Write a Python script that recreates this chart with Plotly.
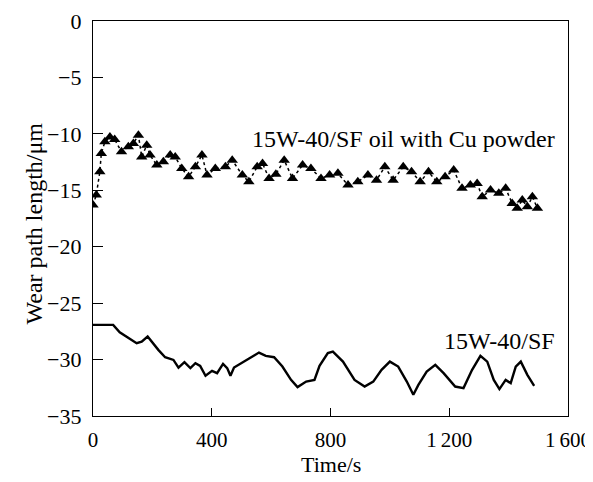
import plotly.graph_objects as go

# 15W-40/SF oil with Cu powder (triangles, dotted)
cu_time = [0, 11, 23, 28, 40, 57, 73, 96, 119, 136, 153, 164, 181, 192, 215, 237, 260, 277,
           299, 322, 345, 367, 384, 412, 446, 469, 503, 525, 553, 571, 593, 616, 644, 672,
           706, 734, 768, 797, 825, 859, 892, 926, 955, 983, 1011, 1045, 1073, 1102, 1130,
           1158, 1186, 1215, 1243, 1271, 1294, 1311, 1339, 1367, 1390, 1412, 1429, 1446,
           1463, 1480, 1497]
cu_wear = [-16.31, -15.42, -13.36, -11.73, -10.71, -10.27, -10.5, -11.59, -11.15, -10.85,
           -10.12, -12.04, -11.0, -11.88, -12.77, -12.48, -11.88, -12.04, -13.06, -13.81,
           -12.92, -11.88, -13.65, -13.06, -12.92, -12.33, -13.65, -14.25, -12.92, -12.62,
           -13.95, -13.57, -12.33, -13.95, -12.77, -13.06, -13.95, -13.65, -13.5, -14.54,
           -14.25, -13.65, -14.1, -12.92, -14.1, -12.92, -13.36, -14.25, -13.36, -14.25,
           -13.81, -13.21, -14.83, -14.54, -14.39, -15.58, -14.98, -15.27, -14.83, -16.16,
           -16.6, -15.87, -16.46, -15.58, -16.6]

# 15W-40/SF (solid line)
sf_time = [0, 68, 90, 129, 147, 164, 184, 220, 243, 271, 288, 308, 328, 345, 361, 379, 401,
           418, 438, 452, 463, 475, 508, 531, 559, 582, 610, 638, 667, 689, 718, 746, 763,
           791, 808, 842, 881, 915, 944, 972, 1000, 1028, 1057, 1079, 1096, 1124, 1153,
           1181, 1220, 1248, 1277, 1305, 1328, 1350, 1369, 1390, 1407, 1424, 1441, 1463, 1486]
sf_wear = [-26.93, -26.93, -27.58, -28.26, -28.55, -28.41, -27.96, -29.14, -29.79, -30.03,
           -30.71, -30.23, -30.76, -30.32, -30.56, -31.44, -31.0, -31.2, -30.38, -30.76,
           -31.44, -30.71, -30.18, -29.79, -29.38, -29.67, -29.79, -30.62, -31.8, -32.44,
           -31.95, -31.8, -30.56, -29.43, -29.29, -30.18, -31.8, -32.39, -31.95, -30.91,
           -30.18, -30.62, -31.95, -33.12, -32.24, -31.06, -30.47, -31.2, -32.39, -32.53,
           -30.91, -29.67, -30.18, -31.8, -32.62, -31.8, -32.09, -30.62, -30.18, -31.35,
           -32.33]

x_tickvals = [0, 400, 800, 1200, 1600]
x_ticktext = ["0", "400", "800", "1\u2009200", "1\u2009600"]
y_tickvals = [0, -5, -10, -15, -20, -25, -30, -35]
y_ticktext = ["0", "\u22125", "\u221210", "\u221215", "\u221220", "\u221225", "\u221230", "\u221235"]

FONT = '"Liberation Serif", "Times New Roman", Tinos, serif'

fig = go.Figure()
fig.add_trace(go.Scatter(
    x=cu_time, y=cu_wear, mode="lines+markers",
    line=dict(color="black", width=1.5, dash="dot"),
    marker=dict(symbol="triangle-up", size=10, color="black"),
    showlegend=False))
fig.add_trace(go.Scatter(
    x=sf_time, y=sf_wear, mode="lines",
    line=dict(color="black", width=2.4),
    showlegend=False))

fig.add_annotation(x=1564, y=-10.47, text="15W-40/SF oil with Cu powder", showarrow=False,
                   xanchor="right", yanchor="middle", font=dict(family=FONT, size=24, color="black"))
fig.add_annotation(x=1564, y=-28.35, text="15W-40/SF", showarrow=False,
                   xanchor="right", yanchor="middle", font=dict(family=FONT, size=24, color="black"))

# axis titles
fig.add_annotation(xref="paper", yref="paper", x=0.5, y=0, yshift=-48, text="Time/s",
                   showarrow=False, xanchor="center", yanchor="middle",
                   font=dict(family=FONT, size=22, color="black"))
fig.add_annotation(xref="paper", yref="paper", x=0, y=0.5, xshift=-60, yshift=-5,
                   text="Wear path length/\u03bcm", textangle=-90,
                   showarrow=False, xanchor="center", yanchor="middle",
                   font=dict(family=FONT, size=24, color="black"))

# the page body adds an 8 px offset, so the figure is 8 px smaller on each axis
fig.update_layout(
    width=585, height=474,
    margin=dict(l=85, r=25, t=13, b=66),
    plot_bgcolor="white", paper_bgcolor="white",
    font=dict(family=FONT, size=21, color="black"),
)
fig.update_xaxes(range=[0, 1600], tickvals=x_tickvals, ticktext=x_ticktext,
                 ticks="inside", ticklen=8, tickcolor="black", tickwidth=1,
                 showline=True, linecolor="black", linewidth=1.3, mirror=True,
                 showgrid=False, zeroline=False, automargin=False,
                 tickfont=dict(family=FONT, size=21), ticklabelstandoff=5)
fig.update_yaxes(range=[-35, 0], tickvals=y_tickvals, ticktext=y_ticktext,
                 ticks="inside", ticklen=10, tickcolor="black", tickwidth=1,
                 showline=True, linecolor="black", linewidth=1.3, mirror=True,
                 showgrid=False, zeroline=False, automargin=False,
                 tickfont=dict(family=FONT, size=22), ticklabelstandoff=6)

fig.write_html("out.html")
